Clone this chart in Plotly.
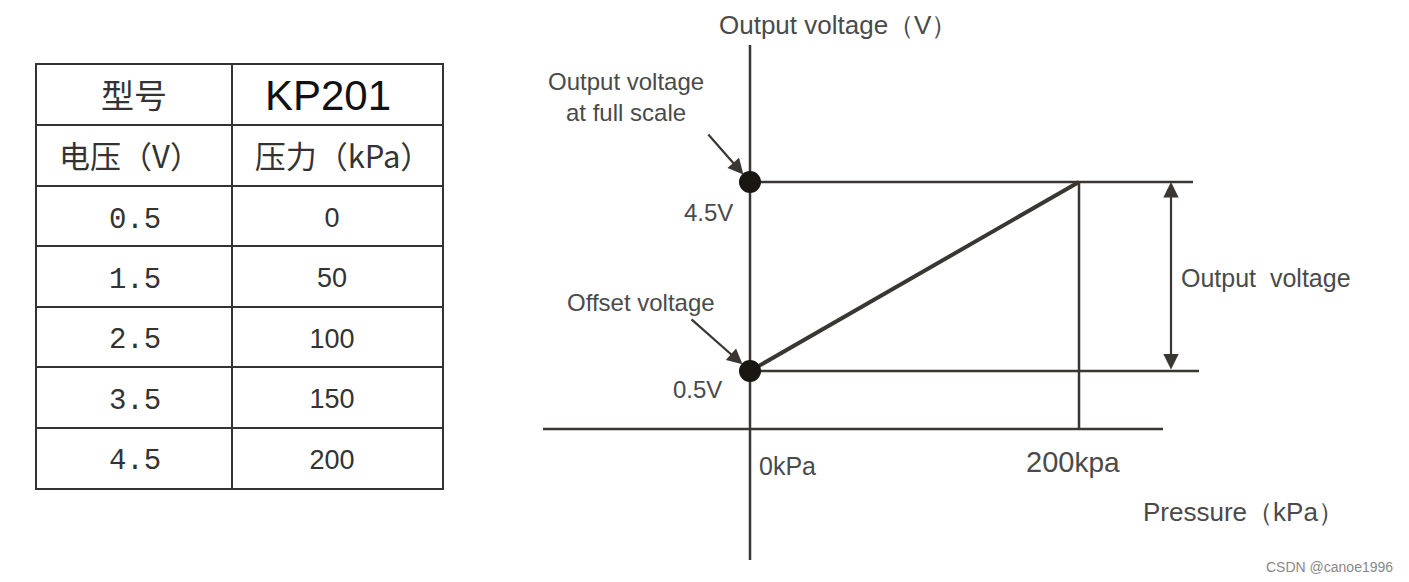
import plotly.graph_objects as go

# ---------------- data ----------------
header_row1 = ["型号", "KP201"]
header_row2 = ["电压（V）", "压力（kPa）"]
voltage = [0.5, 1.5, 2.5, 3.5, 4.5]
pressure = [0, 50, 100, 150, 200]
voltage_labels = ["0.5", "1.5", "2.5", "3.5", "4.5"]
pressure_labels = ["0", "50", "100", "150", "200"]

W, H = 1409, 582
LINE = "#3a3631"
TXT = "#4a4a4a"
GRID = "#333333"

# diagram scale (pixel position of origin and pixels per unit)
X0PX, PXPK = 750, 1.645
Y0PX, PXPV = 394.6, 47.25
xr = [(0 - X0PX) / PXPK, (W - X0PX) / PXPK]
yr = [(Y0PX - H) / PXPV, Y0PX / PXPV]


def xd(px):
    return (px - X0PX) / PXPK


def yd(py):
    return (Y0PX - py) / PXPV


def px(x):
    return x / W


def py(y):
    return 1 - y / H


fig = go.Figure()

# ---------------- table (text trace on its own axes, gridlines as cell borders) ----------------
rows = [header_row1, header_row2] + [list(r) for r in zip(voltage_labels, pressure_labels)]
col_edges = [0, 195, 405]
text_x = [[97, 291], [93, 306]]  # text centre per column: header-1 style row / other rows
text_x_vals = [98, 295]
Y_NUDGE = 0.07
t_x, t_y, t_text, t_fam, t_size, t_col = [], [], [], [], [], []
for r, row in enumerate(rows):
    for c, val in enumerate(row):
        t_x.append(text_x[r][c] if r < 2 else text_x_vals[c])
        t_y.append(r + 0.5 + Y_NUDGE)
        t_text.append(val)
        if r == 0 and c == 1:
            t_fam.append("Liberation Sans")
            t_size.append(42)
            t_col.append("#111111")
        elif r < 2:
            t_fam.append("Noto Sans CJK SC")
            t_size.append(33 if r == 0 else 31)
            t_col.append("#333333")
        else:
            t_fam.append("Liberation Mono" if c == 0 else "Liberation Sans")
            t_size.append(29 if c == 0 else 27)
            t_col.append("#333333")

fig.add_trace(go.Scatter(
    x=t_x, y=t_y, text=t_text, mode="text", xaxis="x2", yaxis="y2",
    textposition="middle center",
    textfont=dict(family=t_fam, size=t_size, color=t_col),
    hoverinfo="skip", showlegend=False,
))

# ---------------- diagram ----------------
fig.add_trace(go.Scatter(
    x=pressure, y=voltage, mode="lines",
    line=dict(color=LINE, width=4), hoverinfo="skip", showlegend=False,
))
fig.add_trace(go.Scatter(
    x=[pressure[0], pressure[0]], y=[voltage[0], voltage[-1]], mode="markers",
    marker=dict(color="#1a1612", size=22), hoverinfo="skip", showlegend=False,
))

shapes = []
shapes.append(dict(type="line", xref="x", yref="y", x0=0, x1=0, y0=yd(45), y1=yd(560),
                   line=dict(color=LINE, width=2.5), layer="below"))
shapes.append(dict(type="line", xref="x", yref="y", x0=xd(543), x1=xd(1163), y0=yd(429), y1=yd(429),
                   line=dict(color=LINE, width=2.5), layer="below"))
shapes.append(dict(type="line", xref="x", yref="y", x0=0, x1=xd(1193), y0=voltage[-1], y1=voltage[-1],
                   line=dict(color=LINE, width=2.5), layer="below"))
shapes.append(dict(type="line", xref="x", yref="y", x0=0, x1=xd(1199), y0=voltage[0], y1=voltage[0],
                   line=dict(color=LINE, width=2.5), layer="below"))
shapes.append(dict(type="line", xref="x", yref="y", x0=pressure[-1], x1=pressure[-1], y0=yd(429), y1=voltage[-1],
                   line=dict(color=LINE, width=2.5), layer="below"))

ann = []
ann.append(dict(x=xd(1171), y=voltage[-1], ax=xd(1171), ay=voltage[0], xref="x", yref="y",
                axref="x", ayref="y", text="", showarrow=True, arrowside="end+start",
                arrowhead=2, arrowsize=1.4, arrowwidth=2.2, arrowcolor=LINE))
ann.append(dict(x=0, y=voltage[-1], xref="x", yref="y", ax=-43, ay=-49, text="", showarrow=True,
                arrowhead=2, arrowsize=1.4, arrowwidth=2.2, arrowcolor=LINE, standoff=10))
ann.append(dict(x=0, y=voltage[0], xref="x", yref="y", ax=-60, ay=-53, text="", showarrow=True,
                arrowhead=2, arrowsize=1.4, arrowwidth=2.2, arrowcolor=LINE, standoff=10))


def label(text, x, y, size, color=TXT, family="Liberation Sans"):
    ann.append(dict(x=px(x), y=py(y), xref="paper", yref="paper", text=text, showarrow=False,
                    xanchor="center", yanchor="middle", font=dict(family=family, size=size, color=color)))


label("Output voltage（V）", 838, 25, 26)
label("Output voltage<br>at full scale", 626, 97, 24)
label("4.5V", 708, 212, 24)
label("Offset voltage", 641, 302, 24)
label("0.5V", 697, 390, 24)
label("0kPa", 787, 466, 25)
label("200<span style='font-size:28px'>kpa</span>", 1073, 462, 29)
label("Output  voltage", 1266, 278, 25)
label("Pressure（kPa）", 1243, 512, 26)
label("CSDN @canoe1996", 1329, 567, 14, color="#888888")

fig.update_layout(
    width=W, height=H,
    margin=dict(l=0, r=0, t=0, b=0),
    paper_bgcolor="white", plot_bgcolor="rgba(0,0,0,0)",
    xaxis=dict(range=xr, visible=False, domain=[0, 1]),
    yaxis=dict(range=yr, visible=False, domain=[0, 1]),
    xaxis2=dict(range=[col_edges[0], col_edges[-1]], domain=[37 / W, 442 / W], anchor="y2",
                tickvals=col_edges, showticklabels=False, ticks="", showgrid=True,
                gridcolor=GRID, gridwidth=1.5, zeroline=False, showline=True, mirror=True,
                linecolor=GRID, linewidth=1.5, fixedrange=True),
    yaxis2=dict(range=[len(rows), 0], domain=[1 - 488 / H, 1 - 65 / H], anchor="x2",
                tickvals=list(range(len(rows) + 1)), showticklabels=False, ticks="", showgrid=True,
                gridcolor=GRID, gridwidth=1.5, zeroline=False, showline=True, mirror=True,
                linecolor=GRID, linewidth=1.5, fixedrange=True),
    shapes=shapes, annotations=ann, showlegend=False,
)

fig.write_html("out.html", config={"displayModeBar": False},
               post_script="document.body.style.margin='0px';")
